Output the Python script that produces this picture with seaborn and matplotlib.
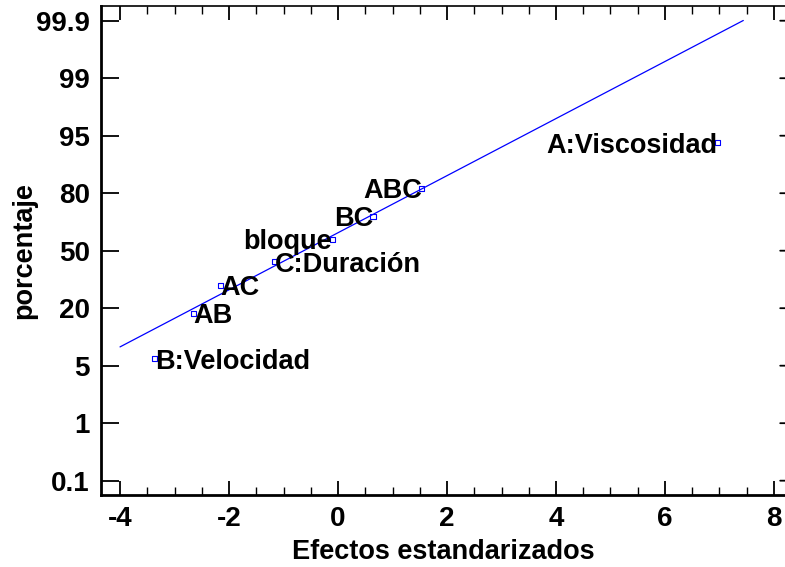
import matplotlib
matplotlib.use("Agg")
import matplotlib.pyplot as plt
from matplotlib.ticker import MultipleLocator, FixedLocator
import seaborn as sns
import pandas as pd
from statistics import NormalDist

# ---- data ----
effects = ["B:Velocidad", "AB", "AC", "C:Duración", "bloque", "BC", "ABC", "A:Viscosidad"]
std_effect = [-3.36, -2.655, -2.16, -1.156, -0.104, 0.642, 1.536, 6.967]
percent = [6.25, 18.75, 31.25, 43.75, 56.25, 68.75, 81.25, 93.75]
label_side = ["left", "left", "left", "left", "right", "right", "right", "right"]

line_x = [-4.0, 7.437]
line_pct = [8.6, 99.946]

ytick_labels = ["0.1", "1", "5", "20", "50", "80", "95", "99", "99.9"]
xticks = [-4, -2, 0, 2, 4, 6, 8]

K = 1.225  # scale factor of the probability axis
nd = NormalDist()


def to_axis(p):
    return K * nd.inv_cdf(p / 100.0)


df = pd.DataFrame({"effect": effects, "x": std_effect,
                   "y": [to_axis(p) for p in percent]})
line_df = pd.DataFrame({"x": line_x, "y": [to_axis(p) for p in line_pct]})

sns.set_style("ticks")
plt.rcParams["font.family"] = ["Liberation Sans", "DejaVu Sans"]
plt.rcParams["font.weight"] = "bold"
for key in ["text.color", "axes.labelcolor", "xtick.color", "ytick.color", "axes.edgecolor"]:
    plt.rcParams[key] = "black"

fig = plt.figure(figsize=(7.85, 5.67), dpi=100)
ax = fig.add_axes([101 / 785, (567 - 495) / 567, (785 - 101) / 785, (495 - 6) / 567])

sns.lineplot(data=line_df, x="x", y="y", ax=ax, color="#0000ff", linewidth=0.9)
sns.scatterplot(data=df, x="x", y="y", ax=ax, marker="s", s=14, color="#0000ff")
pts = ax.collections[-1]
pts.set_facecolor("none")
pts.set_edgecolor("#0000ff")
pts.set_linewidth(0.8)

FS = 19.5
for name, x, y, side in zip(df["effect"], df["x"], df["y"], label_side):
    ha = "left" if side == "left" else "right"
    ax.text(x, y - 0.05, name, ha=ha, va="center", fontsize=FS, fontweight="bold",
            color="black")

ax.set_xlim(-4.349, 8.202)
ax.set_ylim(-4.249, 4.256)

ax.xaxis.set_major_locator(FixedLocator(xticks))
ax.xaxis.set_minor_locator(MultipleLocator(0.5))
ax.set_xticklabels([str(t) for t in xticks])
ax.yaxis.set_major_locator(FixedLocator([i - 4 for i in range(9)]))
ax.set_yticklabels(ytick_labels)

ax.tick_params(axis="x", which="major", direction="in", length=10, width=1.3,
               top=True, bottom=True, labelsize=20, pad=8)
ax.tick_params(axis="x", which="minor", direction="in", length=6, width=1.0,
               top=True, bottom=True)
ax.tick_params(axis="y", which="major", direction="in", length=13, width=1.3,
               left=True, right=False, labelsize=20, pad=8)

for lab in ax.get_xticklabels() + ax.get_yticklabels():
    lab.set_fontweight("bold")

# short inward ticks on the right edge
for i in range(9):
    ax.annotate("", xy=(1.0, i - 4), xytext=(0.993, i - 4),
                xycoords=("axes fraction", "data"), textcoords=("axes fraction", "data"),
                arrowprops=dict(arrowstyle="-", color="black", lw=1.3,
                                shrinkA=0, shrinkB=0))

ax.spines["left"].set_linewidth(2.0)
ax.spines["bottom"].set_linewidth(2.0)
ax.spines["top"].set_linewidth(1.2)
ax.spines["right"].set_visible(False)

ax.set_xlabel("Efectos estandarizados", fontsize=FS, fontweight="bold", labelpad=5)
ax.set_ylabel("porcentaje", fontsize=FS, fontweight="bold", labelpad=-1)

fig.savefig("out.png", dpi=100)
